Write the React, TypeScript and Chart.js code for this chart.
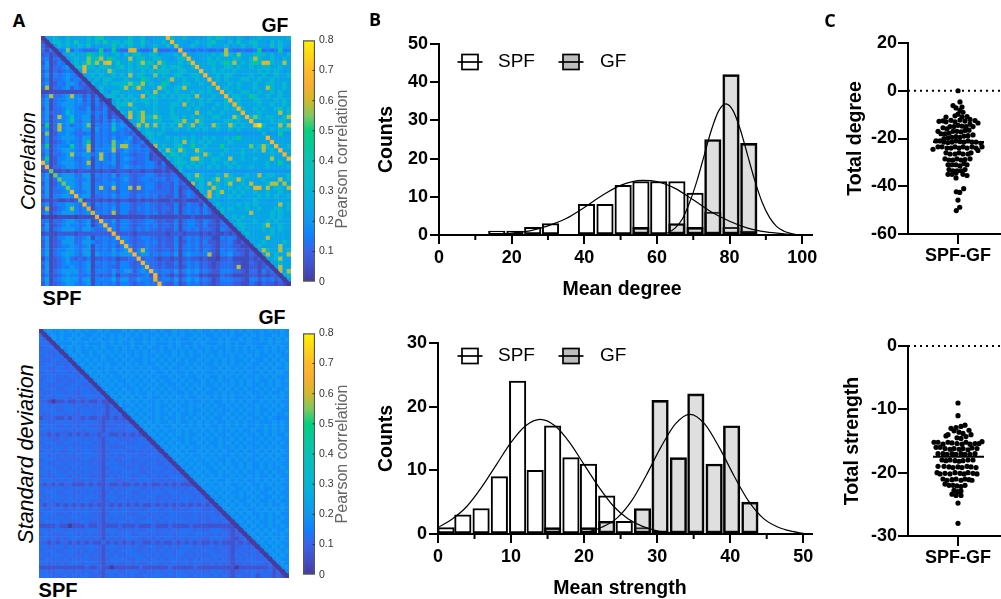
import React, { useEffect, useRef } from "react";
import { Chart, registerables } from "chart.js";

Chart.register(...registerables);
Chart.defaults.font.family = "'Liberation Sans', Arial, sans-serif";

// ---------- Data ----------
const correlationLevels = [0.01, 0.04, 0.08, 0.12, 0.16, 0.2, 0.2, 0.24, 0.32, 0.38, 0.42, 0.46, 0.5, 0.54, 0.58, 0.62, 0.68, 0.72, 0.78];
const deviationLevels = [0, 0.06, 0.105, 0.125, 0.15, 0.175, 0.205];

const correlationRows = [
"0778768777 7879a77677 7977866777 g877876767 8798776876 7787777778",
"20788787a7 78797b7887 8a77976778 7g77767877 8977687977 8877687877",
"3106878778 7967677a78 7877867877 86e7678767 8777867787 7877697876",
"313044d354 3334c34b43 3ff4334e33 343g443434 3343e43343 34c3434b44",
"2312067877 7c87a76786 8789778867 7787g76777 7878e87d77 7888786768",
"3413306787 7d8ae7c877 7e78977887 76788g7677 8787778877 8e87787687",
"2512430787 8d8e7fg7a7 7878e8a7e8 777878g777 8878c8e787 8c8ff877e7",
"3513345088 f887888789 7878887e79 7888778g77 7877887877 8778877877",
"2413234307 f77877e877 7877878788 87788777g7 7878778777 7787878767",
"3514345430 7787877878 7e78877d78 778877887g 7787887777 8778778778",
"2413345343 0778788777 8777c87677 8e77877877 g787877788 7787787777",
"3512436542 3087787888 8d88e7877c 8677887787 7g77787877 7877887787",
"2e13345243 2207877778 e78f8777e8 7788e77777 87g7877877 7877e87787",
"1111111111 1210876887 7777787e77 8787778787 877g787788 7787787877",
"24e3345e44 2413078878 7877f78878 7878887e77 7877g78877 c877877877",
"3613446645 2414130787 8787887877 7778787787 87778g7877 7887778787",
"3513456544 3414230788 8e77787877 7887e78787 778787g877 7787787787",
"2613347543 3513241087 7787777877 7877787877 7877878g87 7878778a78",
"3523348644 4524341208 7e78e77877 7877777e77 87787777g7 7787777e78",
"3513e45844 5614241320 7f78e88e87 7887878787 788777e87g 8d8788778e",
"3513446b43 6513242634 0778e77887 7788e77e87 7777887877 g777787887",
"2c13e45344 5d14343845 407e7e7e78 787e78e787 7e877e8787 7gi8777e7e",
"3513e45543 5515343a44 3408787778 7787787878 7787787877 7787787888",
"2d12445433 3414343434 3230788787 6666667666 6666666666 6668666c66",
"2513456543 5514343534 4523078777 8787878778 7877878c77 7777g77777",
"2512345443 5c14343d44 5423407877 7787e78787 8777787777 77777g7777",
"3c13444b43 5e14344d4e e434230e78 778a77c778 777c777777 d78e87g778",
"3613457543 4e14444e34 6434342087 e87e877e87 7777877787 787e787g77",
"2513346e44 5534e43524 4323341208 7a8787787e 8778777787 77777877g7",
"3c12445533 4514e43524 5433341220 878877ef87 78877e7787 78777e777g",
"g612455543 4e14344524 4323344314 0788878787 7877878777 7777877c77",
"2g13345543 4514343424 5434344323 1078787877 8787787877 8777877778",
"12d1121212 2212122122 2122122112 1208666666 6666666666 6666666666",
"351d456533 5514343524 4323344323 2330787e87 7787e87778 77e7887778",
"3613d56543 4513343434 5323443434 2342087887 78e7888f87 7778777e78",
"25124d6543 5514344534 4323344323 324230e787 e7878e7787 e7778ee7e7",
"361344d643 5514e43e34 4e2e344323 3241230787 7e87787878 7ff7e7887e",
"2513345g43 4514343424 4323343333 3241343087 f78e778787 7877877877",
"36144564g4 5513343534 4324343423 2241243208 f787787877 7787878778",
"121211212d 1212121212 2112121211 1211211120 7776777677 7877767777",
"3513445543 g414343424 4323343323 2241243314 0787777878 7877777e78",
"2e12345d43 4f13343524 4324343323 3241343424 2078787778 7787778878",
"3513455543 45f4343e24 4223343423 2241343424 3108777777 e777787877",
"0100111101 111f111111 1111121111 1111112111 1110778787 7777787877",
"3413345543 4513g43524 4323344323 2241344324 3213077877 7877878777",
"2512345443 45134g3424 4323343423 3241344324 2213307887 7778e77877",
"3613455543 554334g424 4324343323 2241343423 3214320787 7778787877",
"1211222212 2222222g22 2212222222 1222122212 1211212078 7777787777",
"3512445533 45143434g4 4323443323 2241343423 3114343107 7777e77777",
"2612355633 554334343g 4323343423 2241243424 2213342120 7778777787",
"2512344543 4514343424 g423343323 2241343423 3213332211 0787777e77",
"3613446543 6614343534 5g24e43323 3241343424 3214343221 207e877e78",
"3713467643 6715444645 56g4553434 4351454434 e214453321 3207e7877e",
"1412345323 2412232312 233g233212 2121232212 1102231111 2120778e77",
"3512345443 4514343424 4323g43323 2241343423 2123332211 3212077877",
"2512344543 4513343324 43234g3323 2231243423 2123332e11 2212307e77",
"3613456553 4614443634 562454g434 4362454534 3224443321 3314230e7e",
"2412345443 3413232413 3223342g23 2131243312 1113221111 2212122078",
"3713467663 5714444735 5335443f34 4352454534 3124443321 4424342307",
"2512345543 4514343424 43233433g3 2241243423 2123332211 3213221210",
];

const deviationRows = [
"0565565656 5655656555 6565655656 5565656565 5656556565 6556565565",
"2056565565 6556565656 5656565565 6565655656 5565656556 5656556565",
"3206565656 5565655656 6565565656 5656556565 6556565565 6556565656",
"3320555565 5655565656 5565565655 5656555656 5556565655 6555565655",
"2333065656 5656565565 6565656556 5656565655 6565565656 5655656565",
"3322305656 5565656565 6556565656 5565656565 6556565656 5565656556",
"2332330565 6565565656 5656565565 6565656556 5656556565 6565565655",
"3223323056 5656565565 6565565656 5656565565 6565656556 5655656565",
"2333232305 6565656556 5656565565 6565565656 5565656565 6556565656",
"3322332320 5656556565 6565656556 5655656565 6556565656 5565656556",
"2332333232 0565656556 5656565655 6565565656 5565656565 6556565665",
"3233232332 3056565655 6565656565 5656565565 6556565656 5565656555",
"2333223223 3305656565 5656565656 5565656556 5656556565 6565565656",
"3322332333 2230565656 5565656565 6556565656 5565656565 6556565655",
"2333223332 3323056565 6556565656 5655656565 6556565656 5565656556",
"3223332322 3332305656 5656556565 6565565656 5565656565 6556565565",
"2332333232 2333230565 6565656556 5656565565 6565656556 5655656565",
"2210112112 1211211056 5656565565 6565656556 5655656565 6556565655",
"3323233323 2232321306 5565656565 5656556565 6565565656 5565656565",
"2333223332 3323231230 5656565565 6565656556 5656556565 6565565655",
"3223332322 3332321323 0565656565 5656556565 6565565656 5565656556",
"1222112122 1211211212 1056565565 6556565656 5655656565 6556565455",
"3322333322 2333212322 2205656565 5656556565 6565565656 5565556565",
"2333223232 3322212223 2320565656 5565656565 6556565656 5565656565",
"3323332323 2333213232 2333056565 6556565656 5656556565 5655656565",
"2212122121 2122122112 1212105656 5656565565 6565565656 5565656556",
"3322232333 2323213332 2232320565 6565565656 5656556565 6556565655",
"2333223322 3332212323 3223332056 5656565565 6556565656 5565656565",
"3223332323 2323213222 2333323205 6565656556 5656556565 6556565655",
"2332322332 3332212333 3223232320 5656565565 6565655656 5565656565",
"3323232323 2333213232 2333223332 0565656556 5656556565 6556565655",
"2333223222 3322212322 3322332323 2056565655 6565565656 5565656565",
"3322332333 2323213332 2323223322 3205656565 5656565565 6556565655",
"2333223232 3332212333 3223232333 2320565656 5565656565 6556565565",
"3323332323 2323213232 3333223232 3322056565 6556565656 5565656556",
"2322333232 3322212323 3322332323 2333205656 5656556565 6565565655",
"3333232322 2323213322 2323333232 3223320565 6565565656 5565656565",
"2121212211 1212112112 1121212112 1212111056 5656565565 6556565655",
"3323332323 2333213232 2333223232 3322323205 6565656556 5656556565",
"2333223322 3232212323 3322332333 2333232320 5656565565 6565565655",
"3223332323 2333213332 2323223322 3232333232 0565656565 5656556565",
"2332323332 3322212323 3232332323 2323332323 2056565655 6565565655",
"2122121212 1212112121 2121211212 1212121212 1205656565 5656565565",
"3323332323 2323213232 3323223332 3322323332 2320565656 5565656565",
"2333223232 3332212333 3222332323 2333232323 2322056565 6556565655",
"3322332333 2323213232 2333223232 3332323322 2333205656 5656565565",
"2333323222 3322212323 3232333323 2323332323 2232320565 6565565655",
"1111211011 1211211112 1112111211 1211112111 1111111056 5656565565",
"3323332323 2333213332 2323223322 3232333232 2333221205 6565656556",
"2332223332 3232212323 3322332323 2323332333 3232321220 5656565565",
"3323232333 2323213232 2333223232 3322323322 2333221123 0565656565",
"2212122121 2121121212 1212211212 1121212121 1212111212 1056565655",
"3322332323 2333213332 2323223322 3232333232 2323221223 2205656565",
"2333223332 3232212323 3332232323 2323332323 3322321232 2320565656",
"3223332322 2323213232 2333323232 3323323232 2333221323 2323056565",
"2332323232 3322212333 3223332323 2333232323 3232321232 3322305655",
"3323232333 2333213232 2323223332 3232332332 2323221223 2333230565",
"1111111111 1211211011 1111211111 1211111211 1111111011 1111121056",
"3322332323 2323213332 2333223232 3323323232 2333221223 2323231205",
"3332223232 3322212323 3232232333 2323332323 3232321232 2312321210",
];

const colorbarValues = [0, 0.05, 0.1, 0.15, 0.2, 0.25, 0.3, 0.4, 0.5, 0.55, 0.6, 0.65, 0.7, 0.8];
const colorbarColors = ["#463c9c","#4050c8","#3a62e8","#0f80ff","#0f98f0","#05a8e4","#03b6d4","#08c2b4","#03d07f","#80c860","#d0b92c","#f8ae2e","#ffba28","#fff200"];
const colorbarTicks = [0, 0.1, 0.2, 0.3, 0.4, 0.5, 0.6, 0.7, 0.8];

const degreeBins = [15.9, 20.9, 25.8, 30.7, 40.6, 45.7, 50.7, 55.6, 60.5, 65.5, 70.5, 75.4, 80.4, 85.3];
const degreeSPF = [1, 1, 2, 3, 8, 8, 13, 14, 14, 14, 11, 6, 2, 1];
const degreeGF = [0, 0, 0, 0, 0, 0, 0, 2, 0, 3, 2, 25, 42, 24];
const degreeCurveSPFx = [10, 15, 20, 25, 30, 35, 40, 45, 50, 56, 60, 65, 70, 75, 80, 85, 90, 95, 100];
const degreeCurveSPFy = [0, 0.2, 0.5, 1.1, 2.4, 4.3, 7.2, 10.4, 13, 14.3, 14, 12.2, 9.2, 6, 3.6, 1.8, 0.8, 0.3, 0];
const degreeCurveGFx = [61, 63, 65, 67, 69, 71, 73, 75, 77, 79, 81, 83, 85, 87, 89, 91, 93, 95, 97, 99];
const degreeCurveGFy = [0, 0.6, 1.8, 4.2, 8.5, 14.1, 20.8, 27.5, 32.5, 34.3, 32.5, 27.5, 20.8, 14.1, 8.5, 4.6, 2.2, 1, 0.38, 0];

const strengthBins = [1.1, 3.4, 5.9, 8.4, 10.9, 13.3, 15.7, 18.2, 20.6, 23.1, 25.5, 28, 30.4, 32.9, 35.3, 37.8, 40.2, 42.7];
const strengthSPF = [1, 3, 4, 9, 24, 10, 17, 12, 11, 6, 2, 1, 0, 0, 0, 0, 0, 0];
const strengthGF = [0, 0, 0, 0, 0, 0, 1, 0, 1, 2, 0, 4, 21, 12, 22, 11, 17, 5];
const strengthCurveSPFx = [0, 2, 4, 6, 8, 10, 12, 14, 16, 18, 20, 22, 24, 26, 28, 30, 32, 34];
const strengthCurveSPFy = [1, 2.4, 4.4, 7.4, 10.9, 14.4, 17, 18, 17, 14.4, 10.9, 7.4, 4.4, 2.4, 1.2, 0.5, 0.2, 0];
const strengthCurveGFx = [18.5, 20.5, 22.5, 24.5, 26.5, 28.5, 30.5, 32.5, 34.5, 36.5, 38.5, 40.5, 42.5, 44.5, 46.5, 48.5, 50];
const strengthCurveGFy = [0, 0.3, 1.1, 2.5, 5.2, 9.2, 13.6, 17.3, 18.8, 17.3, 13.6, 9.2, 5.2, 2.5, 1.1, 0.4, 0.1];

const degreeDiff = [
[0,0],[2,-4.7],[-5,-6.2],[4,-6.8],[-2,-7.2],[2,-8.2],[5,-9],[0,-9.8],[-3,-10.5],[-12,-11],[9,-10.8],[4,-11],
[-19,-12.8],[-15,-12.6],[-12,-13],[-7,-12.4],[-3,-13],[2,-12.3],[7,-12.7],[12,-12],[17,-12.5],[20,-13.5],
[-20,-17],[-15,-15.5],[-11,-16],[-8,-15],[-4,-15],[0,-14.5],[4,-14.8],[8,-15],[12,-14],[15,-15],
[-17,-18],[-13,-18],[-9,-17.8],[-5,-17],[-1,-17],[3,-17.2],[7,-16.6],[11,-16.5],
[-14,-20],[-10,-19.8],[-6,-19.5],[-2,-19.2],[2,-19.5],[6,-19],[10,-18.8],[15,-18.5],
[-22,-21],[-18,-21],[-14,-21.5],[-10,-21.7],[-6,-21.5],[-2,-21],[2,-21.3],[6,-21.5],[10,-21],[14,-21.5],[18,-21.5],[23,-22],
[-25,-24.5],[-20,-23.5],[-16,-23.5],[-11,-24],[-7,-24],[-3,-23.5],[1,-24],[5,-23.5],[9,-24],[14,-23.5],[18,-24],[24,-23.5],[20,-25],
[-12,-26],[-8,-26.5],[-3,-26.5],[1,-26],[5,-26.5],[10,-26.5],[13,-26],
[-13,-28.5],[-9,-29],[-5,-29],[-1,-28.5],[3,-29],[7,-28.8],[12,-28.5],
[-10,-31],[-6,-31],[-2,-31],[2,-31.5],[6,-30.5],[9,-31],
[-9,-33],[-5,-33.5],[-1,-33.5],[3,-33.5],[7,-33],[-10,-35],[-6,-35],[-2,-34.5],[5,-35],[9,-35.5],[-2,-36.5],
[5.7,-41],[-1.7,-42.3],[1.7,-42.6],[0,-45.8],[1.7,-48.8],[-1.7,-50.2],
];
const strengthDiff = [
[0,-9],[0,-11],[7,-12.5],[3,-12.7],[-2,-12.9],[-7,-13],[-4,-13.4],[1,-13.6],[5,-13.8],[11,-13.3],[-12,-14.2],[-10,-14],[-1,-14.5],[3,-14.6],[8,-14.3],[13,-14],
[-24,-15.2],[-20,-15.2],[-15,-15.5],[-10,-15.2],[-6,-15.3],[-1,-15.4],[4,-15.5],[8,-15.2],[12,-15.5],[17,-15.4],[24,-15.1],[21,-15.4],
[-22,-16],[-18,-16],[-13,-16.2],[-8,-16.3],[-4,-16.2],[1,-16.3],[5,-16.2],[10,-16.4],[14,-16.1],[19,-16.2],
[-20,-17],[-15,-17],[-11,-17.1],[-6,-17],[-2,-17.1],[3,-17],[7,-17.1],[12,-17.1],[17,-17],
[-16,-18],[-12,-18.1],[-8,-18],[-3,-18.1],[1,-18.2],[5,-18.1],[10,-18],[15,-18],
[-20,-19],[-14,-19],[-9,-19.1],[-5,-19.2],[0,-19.1],[4,-19.2],[9,-19],[13,-19.1],[18,-19.2],
[-21,-20],[-18,-20.2],[-13,-20.1],[-8,-20.2],[-3,-20],[2,-20.1],[6,-20.2],[10,-20],[15,-20.1],[19,-20.2],
[-15,-21],[-11,-21.2],[-6,-21.1],[-2,-21],[3,-21.2],[7,-21],[11,-21.1],[14,-21.2],
[-13,-21.8],[-9,-22],[-5,-22],[-1,-22.1],[3,-22.2],[7,-22],
[-4,-22.8],[0,-23],[3,-22.9],[-6,-23.4],[-2,-23.6],[3,-23.6],[0,-24.8],[0,-28],
];

// ---------- Helpers ----------
const BOLD = (size: number) => ({ size, weight: "bold" as const, family: "'Liberation Sans', Arial, sans-serif" });

function hexToRgb(h: string) {
  return [parseInt(h.slice(1, 3), 16), parseInt(h.slice(3, 5), 16), parseInt(h.slice(5, 7), 16)];
}
function colorOf(v: number) {
  let i = 0;
  while (i < colorbarValues.length - 2 && v > colorbarValues[i + 1]) i++;
  const a = colorbarValues[i], b = colorbarValues[i + 1];
  const t = Math.min(1, Math.max(0, (v - a) / (b - a)));
  const ca = hexToRgb(colorbarColors[i]), cb = hexToRgb(colorbarColors[i + 1]);
  const c = ca.map((x, k) => Math.round(x + (cb[k] - x) * t));
  return `rgb(${c[0]},${c[1]},${c[2]})`;
}
const decodeRows = (rows: string[], levels: number[]) =>
  rows.map((r) => r.replace(/ /g, "").split("").map((ch) => levels[parseInt(ch, 36)]));

function heatmapConfig(rows: string[], levels: number[]): any {
  const m = decodeRows(rows, levels);
  const n = m.length;
  const pts: any[] = [];
  const cols: string[] = [];
  m.forEach((row, r) => row.forEach((v, c) => {
    pts.push({ x: c + 0.5, y: r + 0.5 });
    cols.push(colorOf(v));
  }));
  return {
    type: "scatter",
    data: {
      datasets: [
        { data: [{ x: 0, y: 0 }, { x: n, y: n }], showLine: true, borderColor: "#463c9c", borderWidth: 4, pointRadius: 0, order: 0 },
        { data: pts, pointStyle: "rect", pointRadius: 3.3, pointBorderWidth: 0, pointBackgroundColor: cols, order: 1 },
      ],
    },
    options: {
      responsive: false, animation: false, devicePixelRatio: 1,
      layout: { padding: 0, autoPadding: false },
      plugins: { legend: { display: false }, tooltip: { enabled: false } },
      scales: {
        x: { type: "linear", min: 0, max: n, display: false },
        y: { type: "linear", min: 0, max: n, reverse: true, display: false },
      },
    },
  };
}

function colorbarConfig(pad: { left: number; top: number; bottom: number }): any {
  return {
    type: "bar",
    data: {
      labels: [""],
      datasets: [{
        data: [[0, 0.8]],
        barPercentage: 1, categoryPercentage: 1,
        borderWidth: 1.5, borderColor: "#555", borderSkipped: false,
        backgroundColor: (ctx: any) => {
          const { chart } = ctx;
          const y = chart.scales.y;
          const a = y ? y.getPixelForValue(0) : NaN;
          const b = y ? y.getPixelForValue(0.8) : NaN;
          if (!chart.chartArea || !Number.isFinite(a) || !Number.isFinite(b)) return "#888888";
          const g = chart.ctx.createLinearGradient(0, a, 0, b);
          colorbarValues.forEach((v, i) => g.addColorStop(v / 0.8, colorbarColors[i]));
          return g;
        },
      }],
    },
    options: {
      responsive: false, animation: false, devicePixelRatio: 1,
      layout: { padding: { left: pad.left, top: pad.top, bottom: pad.bottom, right: 0 }, autoPadding: false },
      plugins: { legend: { display: false }, tooltip: { enabled: false } },
      scales: {
        x: { display: false },
        y: {
          position: "right", min: 0, max: 0.8,
          afterFit: (s: any) => { s.width = 41; },
          afterBuildTicks: (s: any) => { s.ticks = colorbarTicks.map((value) => ({ value })); },
          border: { display: false },
          grid: { display: false, drawTicks: false },
          ticks: { padding: 4, color: "#333", font: { size: 10.5 }, callback: (v: number) => (v === 0 ? "0" : v.toFixed(1)) },
        },
      },
    },
    plugins: [{
      id: "innerTicks",
      afterDraw(chart: any) {
        const { ctx, scales: { y }, chartArea } = chart;
        ctx.save();
        ctx.strokeStyle = "#333";
        ctx.lineWidth = 1;
        colorbarTicks.slice(1, -1).forEach((v) => {
          const p = y.getPixelForValue(v);
          ctx.beginPath();
          ctx.moveTo(chartArea.right - 2.5, p);
          ctx.lineTo(chartArea.right, p);
          ctx.stroke();
        });
        ctx.restore();
      },
    }],
  };
}

const toXY = (xs: number[], ys: number[]) => xs.map((x, i) => ({ x, y: ys[i] }));
const nonZero = (xs: number[], ys: number[]) => toXY(xs, ys).filter((p) => p.y > 0);

function histConfig(o: any): any {
  const curve = (xs: number[], ys: number[]) => ({
    type: "line", data: toXY(xs, ys), borderColor: "#000", borderWidth: 1.2, pointRadius: 0,
    cubicInterpolationMode: "monotone", order: 0, clip: false,
  });
  const bar = (ys: number[], fill: string, order: number) => ({
    type: "bar", data: nonZero(o.bins, ys), backgroundColor: fill, borderColor: "#000",
    borderWidth: 2, borderSkipped: false, barThickness: 16.5, order, grouped: false,
  });
  return {
    type: "bar",
    data: {
      datasets: [
        { label: "SPF", ...bar(o.spf, "#ffffff", 3) },
        { label: "GF", ...bar(o.gf, "rgba(140,140,140,0.28)", 2) },
        curve(o.cx1, o.cy1),
        curve(o.cx2, o.cy2),
      ],
    },
    options: {
      responsive: false, animation: false, devicePixelRatio: 1,
      layout: { padding: { top: o.padTop, right: 15, left: 0, bottom: 0 }, autoPadding: false },
      plugins: { legend: { display: false }, tooltip: { enabled: false } },
      scales: {
        x: {
          type: "linear", min: 0, max: o.xMax, offset: false,
          afterFit: (s: any) => { s.height = o.xHeight; },
          afterBuildTicks: (s: any) => { s.ticks = o.majors.map((value: number) => ({ value })); },
          border: { width: 2, color: "#000" },
          grid: { offset: false, drawOnChartArea: false, tickLength: 9, lineWidth: 2, color: "#000" },
          ticks: { color: "#000", font: BOLD(18), padding: 3, maxRotation: 0, autoSkip: false },
        },
        y: {
          min: 0, max: o.yMax,
          afterFit: (s: any) => { s.width = o.yWidth; },
          border: { width: 2, color: "#000" },
          grid: { drawOnChartArea: false, tickLength: 9, lineWidth: 2, color: "#000" },
          ticks: { stepSize: 10, color: "#000", font: BOLD(18), padding: 2 },
          title: { display: true, text: "Counts", color: "#000", font: BOLD(19.5), padding: 0 },
        },
      },
    },
    plugins: [{
      id: "minorAndLegend",
      afterDraw(chart: any) {
        const { ctx, scales: { x } } = chart;
        ctx.save();
        ctx.strokeStyle = "#000";
        ctx.lineWidth = 2;
        o.minors.forEach((v: number) => {
          const p = x.getPixelForValue(v);
          ctx.beginPath();
          ctx.moveTo(p, x.top);
          ctx.lineTo(p, x.top + 5);
          ctx.stroke();
        });
        const entries = [
          { text: "SPF", fill: "#ffffff", cx: o.legendX[0], tx: o.legendX[1] },
          { text: "GF", fill: "#bdbdbd", cx: o.legendX[2], tx: o.legendX[3] },
        ];
        ctx.font = "19px 'Liberation Sans', Arial, sans-serif";
        ctx.textBaseline = "middle";
        ctx.fillStyle = "#000";
        entries.forEach((e) => {
          ctx.fillStyle = e.fill;
          ctx.lineWidth = 1.7;
          ctx.fillRect(e.cx - 8, o.legendY - 7.5, 16, 15);
          ctx.strokeRect(e.cx - 8, o.legendY - 7.5, 16, 15);
          ctx.beginPath();
          ctx.moveTo(e.cx - 12.5, o.legendY);
          ctx.lineTo(e.cx + 12.5, o.legendY);
          ctx.stroke();
          ctx.fillStyle = "#000";
          ctx.fillText(e.text, e.tx, o.legendY);
        });
        ctx.restore();
      },
    }],
  };
}

function swarmConfig(o: any): any {
  return {
    type: "scatter",
    data: {
      datasets: [
        { data: o.points.map((p: number[]) => ({ x: p[0], y: p[1] })), pointRadius: 2.6, pointBackgroundColor: "#000", pointBorderWidth: 0, order: 1, clip: false },
        { data: [{ x: -50, y: 0 }, { x: 43, y: 0 }], showLine: true, borderColor: "#000", borderWidth: 2, borderDash: [2, 4], pointRadius: 0, clip: false, order: 2 },
        { data: [{ x: -25, y: o.mean }, { x: 26, y: o.mean }], showLine: true, borderColor: "#000", borderWidth: 2, pointRadius: 0, order: 0 },
      ],
    },
    options: {
      responsive: false, animation: false, devicePixelRatio: 1,
      layout: { padding: { top: o.padTop, right: 0, left: 0, bottom: 0 }, autoPadding: false },
      plugins: { legend: { display: false }, tooltip: { enabled: false } },
      scales: {
        x: {
          type: "linear", min: -50, max: 43,
          afterFit: (s: any) => { s.height = o.xHeight; },
          afterBuildTicks: (s: any) => { s.ticks = [{ value: 0 }]; },
          border: { width: 2, color: "#000" },
          grid: { drawOnChartArea: false, tickLength: 10, lineWidth: 2, color: "#000" },
          ticks: { color: "#000", font: BOLD(18), padding: 1, callback: () => "SPF-GF", maxRotation: 0 },
        },
        y: {
          min: o.yMin, max: o.yMax,
          afterFit: (s: any) => { s.width = o.yWidth; },
          border: { width: 2, color: "#000" },
          grid: { drawOnChartArea: false, tickLength: 10, lineWidth: 2, color: "#000" },
          ticks: { stepSize: o.step, color: "#000", font: BOLD(18), padding: 1 },
          title: { display: true, text: o.yTitle, color: "#000", font: BOLD(19.5), padding: 0 },
        },
      },
    },
  };
}

function Panel({ left, top, width, height, config }: any) {
  const ref = useRef<HTMLCanvasElement>(null);
  useEffect(() => {
    const chart = new Chart(ref.current as HTMLCanvasElement, config());
    return () => chart.destroy();
  }, []);
  return <canvas ref={ref} width={width} height={height} style={{ position: "absolute", left, top, width, height }} />;
}

function Label({ x, y, text, size, bold, italic, rotate, color, family }: any) {
  return (
    <span style={{
      position: "absolute", left: x, top: y, whiteSpace: "nowrap", lineHeight: 1,
      transform: `translate(-50%,-50%)${rotate ? " rotate(-90deg)" : ""}`,
      fontFamily: family || "'Liberation Sans', Arial, sans-serif", fontSize: size,
      fontWeight: bold ? "bold" : "normal", fontStyle: italic ? "italic" : "normal", color: color || "#000",
    }}>{text}</span>
  );
}

export default function App() {
  return (
    <div style={{ position: "fixed", left: 0, top: 0, width: 1001, height: 599, overflow: "hidden", background: "#fff" }}>
      <Panel left={41} top={36} width={250} height={250} config={() => heatmapConfig(correlationRows, correlationLevels)} />
      <Panel left={39} top={329} width={250} height={249} config={() => heatmapConfig(deviationRows, deviationLevels)} />
      <Panel left={296} top={30} width={60} height={262} config={() => colorbarConfig({ left: 7, top: 6, bottom: 6 })} />
      <Panel left={296} top={323} width={60} height={262} config={() => colorbarConfig({ left: 7, top: 7.5, bottom: 7 })} />

      <Panel left={375} top={30} width={452} height={270} config={() => histConfig({
        bins: degreeBins, spf: degreeSPF, gf: degreeGF,
        cx1: degreeCurveSPFx, cy1: degreeCurveSPFy, cx2: degreeCurveGFx, cy2: degreeCurveGFy,
        padTop: 14, xMax: 102.7, xHeight: 65, yWidth: 64, yMax: 50,
        majors: [0, 20, 40, 60, 80, 100], minors: [10, 30, 50, 70, 90],
        legendX: [95, 123, 196, 225], legendY: 32,
      })} />
      <Panel left={375} top={330} width={452} height={269} config={() => histConfig({
        bins: strengthBins, spf: strengthSPF, gf: strengthGF,
        cx1: strengthCurveSPFx, cy1: strengthCurveSPFy, cx2: strengthCurveGFx, cy2: strengthCurveGFy,
        padTop: 13, xMax: 51.2, xHeight: 65, yWidth: 63, yMax: 30,
        majors: [0, 10, 20, 30, 40, 50], minors: [5, 15, 25, 35, 45],
        legendX: [95, 123, 196, 225], legendY: 26,
      })} />

      <Panel left={844} top={30} width={157} height={245} config={() => swarmConfig({
        points: degreeDiff, mean: -21.5, padTop: 13, xHeight: 41, yWidth: 64,
        yMin: -60, yMax: 20, step: 20, yTitle: "Total degree",
      })} />
      <Panel left={841} top={333} width={160} height={245} config={() => swarmConfig({
        points: strengthDiff, mean: -17.5, padTop: 13, xHeight: 42, yWidth: 67,
        yMin: -30, yMax: 0, step: 10, yTitle: "Total strength",
      })} />

      <Label x={19} y={20} text="A" size={18} bold family="'Open Sans', sans-serif" />
      <Label x={375} y={19} text="B" size={18} bold family="'Open Sans', sans-serif" />
      <Label x={830} y={20} text="C" size={18} bold family="'Open Sans', sans-serif" />
      <Label x={275} y={26} text="GF" size={19.5} bold />
      <Label x={62} y={298} text="SPF" size={20} bold />
      <Label x={272} y={318} text="GF" size={19.5} bold />
      <Label x={58} y={590} text="SPF" size={20} bold />
      <Label x={28} y={161} text="Correlation" size={20} italic rotate />
      <Label x={27} y={454} text="Standard deviation" size={21.5} italic rotate />
      <Label x={342} y={159} text="Pearson correlation" size={16} rotate color="#666" />
      <Label x={342} y={454} text="Pearson correlation" size={16} rotate color="#666" />
      <Label x={622} y={289} text="Mean degree" size={19.5} bold />
      <Label x={620} y={588} text="Mean strength" size={19.5} bold />
    </div>
  );
}
